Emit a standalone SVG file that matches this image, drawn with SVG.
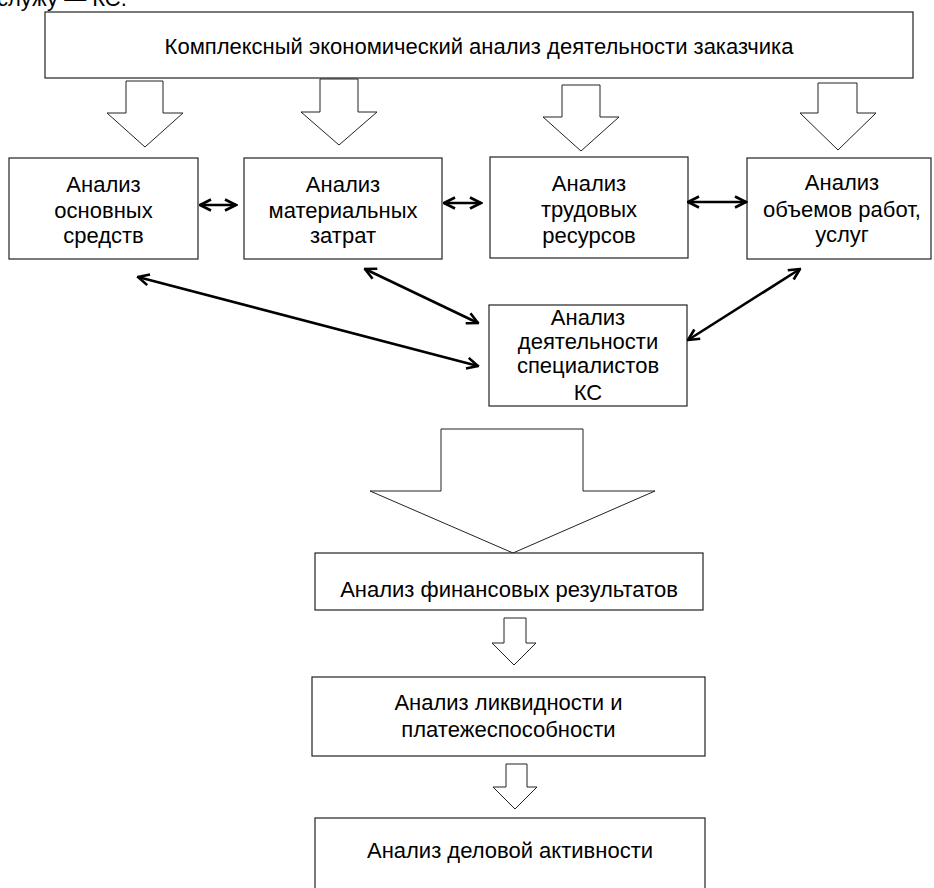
<svg xmlns="http://www.w3.org/2000/svg" width="934" height="888" viewBox="0 0 934 888">
<style>
.box{fill:#fff;stroke:#222;stroke-width:1.2}
.blk{fill:#fff;stroke:#222;stroke-width:1}
.t{font-family:"Liberation Sans",Arial,sans-serif;font-size:22px;fill:#000;text-anchor:middle}
.c{fill:none;stroke:#000;stroke-width:2.6}
</style>
<defs>
<marker id="ah" viewBox="0 0 14 14" markerWidth="14" markerHeight="14" refX="12.5" refY="7" orient="auto-start-reverse" markerUnits="userSpaceOnUse">
<path d="M1.5,1.5 L12.5,7 L1.5,12.5" fill="none" stroke="#000" stroke-width="2.6"/>
</marker>
</defs>
<rect width="934" height="888" fill="#fff"/>
<text x="-3" y="6" style="font-family:'Liberation Sans',Arial,sans-serif;font-size:22px">служу — КС.</text>

<g id="top">
<rect class="box" x="45" y="12" width="868" height="66"/>
<text class="t" x="479" y="54">Комплексный экономический анализ деятельности заказчика</text>
</g>

<g id="blockarrows">
<polygon class="blk" points="126,81 163,81 163,113 183,113 145,147 107,113 126,113"/>
<polygon class="blk" points="320,79 358,79 358,112 377,112 339,145 301,112 320,112"/>
<polygon class="blk" points="562,85 600,85 600,117 619,117 581,151 543,117 562,117"/>
<polygon class="blk" points="818,83 857,83 857,113 876,113 838,150 800,113 818,113"/>
<polygon class="blk" points="441,429 583,429 583,491 655,491 513,553 370,491 441,491"/>
<polygon class="blk" points="504,618 526,618 526,643 536,643 514,665 492,643 504,643"/>
<polygon class="blk" points="506,764 527,764 527,787 537,787 515,809 493,787 506,787"/>
</g>

<g id="n1">
<rect class="box" x="9" y="158" width="189" height="101"/>
<text class="t" x="103.5" y="192">Анализ</text>
<text class="t" x="103.5" y="218">основных</text>
<text class="t" x="103.5" y="243">средств</text>
</g>
<g id="n2">
<rect class="box" x="244" y="158" width="198" height="101"/>
<text class="t" x="343" y="192">Анализ</text>
<text class="t" x="343" y="218">материальных</text>
<text class="t" x="343" y="243">затрат</text>
</g>
<g id="n3">
<rect class="box" x="490" y="157" width="198" height="101"/>
<text class="t" x="589" y="191">Анализ</text>
<text class="t" x="589" y="217">трудовых</text>
<text class="t" x="589" y="243">ресурсов</text>
</g>
<g id="n4">
<rect class="box" x="747" y="158" width="184" height="101"/>
<text class="t" x="842" y="190">Анализ</text>
<text class="t" x="842" y="217">объемов работ,</text>
<text class="t" x="842" y="242">услуг</text>
</g>
<g id="n5">
<rect class="box" x="489" y="305" width="198" height="101"/>
<text class="t" x="588" y="325">Анализ</text>
<text class="t" x="588" y="349">деятельности</text>
<text class="t" x="588" y="373">специалистов</text>
<text class="t" x="588" y="400">КС</text>
</g>
<g id="n6">
<rect class="box" x="315" y="553" width="388" height="57"/>
<text class="t" x="509" y="597">Анализ финансовых результатов</text>
</g>
<g id="n7">
<rect class="box" x="312" y="677" width="393" height="79"/>
<text class="t" x="508.5" y="710">Анализ ликвидности и</text>
<text class="t" x="508.5" y="737">платежеспособности</text>
</g>
<g id="n8">
<rect class="box" x="315" y="818" width="390" height="90"/>
<text class="t" x="510" y="858">Анализ деловой активности</text>
</g>

<g id="connectors">
<line class="c" x1="200" y1="205" x2="236" y2="205" marker-start="url(#ah)" marker-end="url(#ah)"/>
<line class="c" x1="444" y1="203" x2="481" y2="203" marker-start="url(#ah)" marker-end="url(#ah)"/>
<line class="c" x1="688" y1="202" x2="746" y2="202" marker-start="url(#ah)" marker-end="url(#ah)"/>
<line class="c" x1="138" y1="277" x2="478" y2="366" marker-start="url(#ah)" marker-end="url(#ah)"/>
<line class="c" x1="365" y1="269" x2="478" y2="323" marker-start="url(#ah)" marker-end="url(#ah)"/>
<line class="c" x1="800" y1="269" x2="688" y2="340" marker-start="url(#ah)" marker-end="url(#ah)"/>
</g>
</svg>
